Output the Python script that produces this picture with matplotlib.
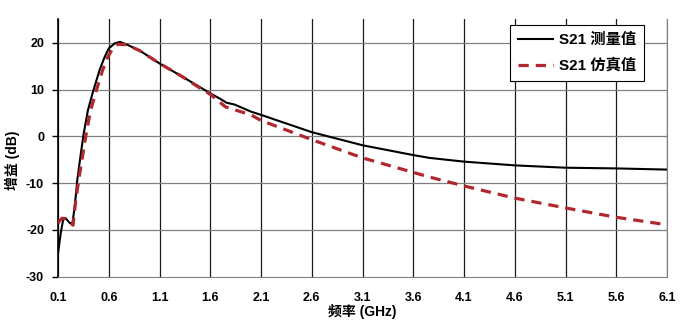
import numpy as np
import matplotlib.pyplot as plt

# S21 测量值 (GHz, dB)
f_meas = [0.10, 0.127, 0.15, 0.175, 0.215, 0.242, 0.265, 0.29, 0.33, 0.353, 0.395, 0.44,
          0.51, 0.56, 0.60, 0.66, 0.71, 0.77, 0.90, 1.1, 1.33, 1.5, 1.6, 1.7, 1.76, 1.84,
          2.0, 2.1, 2.6, 3.1, 3.6, 3.76, 4.1, 4.6, 5.1, 5.6, 6.1]
g_meas = [-25.0, -20.7, -17.9, -17.5, -18.5, -18.6, -15.0, -9.3, -2.9, 0.6, 5.6, 9.2,
          14.2, 17.0, 18.8, 19.9, 20.2, 19.7, 18.4, 15.6, 12.7, 10.5, 9.2, 8.0, 7.2, 6.8,
          5.3, 4.6, 0.9, -1.9, -4.0, -4.6, -5.4, -6.2, -6.7, -6.85, -7.1]

# S21 仿真值
f_sim = [0.10, 0.117, 0.14, 0.17, 0.21, 0.248, 0.275, 0.31, 0.373, 0.42, 0.48, 0.54,
         0.59, 0.64, 0.69, 0.77, 0.90, 1.1, 1.33, 1.5, 1.6, 1.75, 2.0, 2.1, 2.6, 3.1,
         3.6, 3.76, 4.1, 4.6, 5.1, 5.6, 6.1]
g_sim = [-18.6, -18.0, -17.5, -17.6, -18.3, -19.0, -13.6, -8.5, 0.0, 5.5, 10.0, 14.2,
         17.0, 18.8, 19.7, 19.6, 18.4, 15.6, 12.7, 10.3, 9.0, 6.3, 4.6, 3.4, -0.7, -4.6,
         -7.7, -8.7, -10.6, -13.2, -15.3, -17.3, -18.9]

xticks = [0.1, 0.6, 1.1, 1.6, 2.1, 2.6, 3.1, 3.6, 4.1, 4.6, 5.1, 5.6, 6.1]
yticks = [-30, -20, -10, 0, 10, 20]

fam = ['Liberation Sans', 'Noto Sans CJK SC', 'DejaVu Sans']
plt.rcParams['font.family'] = fam

fig = plt.figure(figsize=(6.84, 3.24), dpi=100)
ax = fig.add_axes([0.0848, 0.146, 0.8904, 0.794])

ax.plot(f_meas, g_meas, color='black', lw=1.5, label='S21 测量值', zorder=3)
ax.plot(f_sim, g_sim, color='#b0272d', lw=2.3, dashes=(3.2, 2.2), label='S21 仿真值', zorder=4)

ax.set_xlim(0.1, 6.1)
ax.set_ylim(-30, 25)
ax.set_xticks(xticks)
ax.set_xticklabels([f'{v:.1f}' for v in xticks], fontsize=9, fontweight='bold')
ax.set_yticks(yticks)
ax.set_yticklabels([str(v) for v in yticks], fontsize=9, fontweight='bold')

for x in xticks:
    ax.axvline(x, color='#1a1a1a', lw=0.9, zorder=1)
for y in yticks[1:]:
    ax.axhline(y, color='#808080', lw=0.9, zorder=1)

ax.spines['top'].set_visible(False)
ax.spines['right'].set_color('#808080')
ax.spines['bottom'].set_color('#808080')
ax.spines['left'].set_color('black')
ax.spines['left'].set_linewidth(1.2)
ax.tick_params(axis='x', length=0, pad=11)
ax.tick_params(axis='y', length=4, width=1, pad=6)

ax.set_xlabel('频率 (GHz)', fontsize=10, fontweight='bold')
ax.set_ylabel('增益 (dB)', fontsize=10, fontweight='bold')
ax.yaxis.set_label_coords(-0.063, 0.453)
ax.xaxis.set_label_coords(0.5, -0.108)

leg = ax.legend(loc='upper left', bbox_to_anchor=(0.742, 0.978), borderaxespad=0,
                fancybox=False, edgecolor='black', framealpha=1, handlelength=2.3,
                handletextpad=0.4, prop={'family': fam, 'weight': 'bold', 'size': 11},
                labelspacing=0.75, borderpad=0.5)
leg.get_frame().set_linewidth(0.8)

fig.savefig('out.png', dpi=100)
